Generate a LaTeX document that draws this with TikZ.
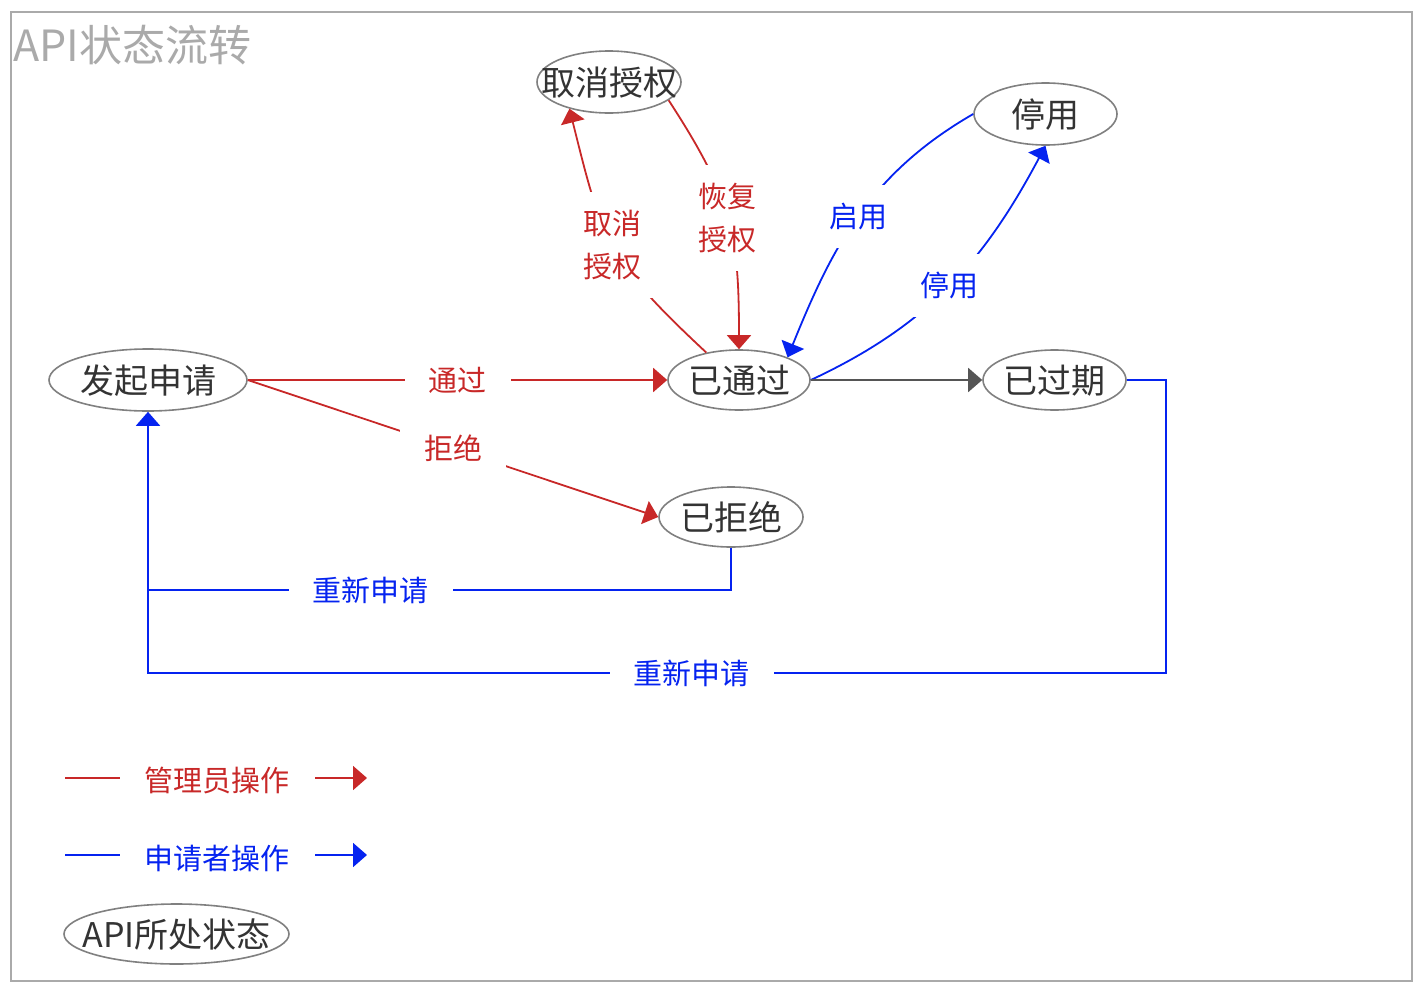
\documentclass[tikz,border=0pt]{standalone}
\usepackage{fontspec}
\setmainfont{Noto Sans CJK SC}
\usetikzlibrary{shapes.geometric,arrows.meta}
\definecolor{ared}{RGB}{200,40,40}
\definecolor{ablue}{RGB}{5,35,240}
\definecolor{stroke}{RGB}{128,128,128}
\definecolor{txt}{RGB}{51,51,51}
\definecolor{framec}{RGB}{170,170,170}
\definecolor{dgray}{RGB}{85,85,85}
\newcommand\zb[1]{\makebox[0pt]{#1}}
\begin{document}
\begin{tikzpicture}[x=1pt,y=1pt,
  st/.style={ellipse, draw=stroke, line width=1.6pt, inner sep=0pt, text=txt,
    font=\fontsize{34}{40}\selectfont, text height=30pt, text depth=4pt},
  lbl/.style={fill=white, inner xsep=24pt, inner ysep=18pt,
    font=\fontsize{29}{43}\selectfont, align=center},
  tip/.style={-{Triangle[length=14pt,width=24pt]}},
  adm/.style={draw=ared, line width=1.8pt, text=ared},
  usr/.style={draw=ablue, line width=1.8pt, text=ablue},
  leg/.style={font=\fontsize{29}{35}\selectfont, inner sep=0pt}
]
\useasboundingbox (0,0) rectangle (1416,-988);
\fill[white] (0,0) rectangle (1416,-988);
\draw[framec, line width=1.6pt] (11,-12) rectangle (1412,-981);
\node[anchor=west, text=framec, font=\fontsize{43}{50}\selectfont, inner sep=0pt] (title) at (13,-45) {API状态流转};

% states
\node[st, minimum width=198, minimum height=62] (A) at (148,-380) {\zb{发起申请}};
\node[st, minimum width=142, minimum height=60] (P) at (739,-380) {\zb{已通过}};
\node[st, minimum width=143, minimum height=60] (E) at (1054.5,-380) {\zb{已过期}};
\node[st, minimum width=144, minimum height=60] (R) at (731,-517) {\zb{已拒绝}};
\node[st, minimum width=144, minimum height=62] (C) at (609,-82) {\zb{取消授权}};
\node[st, minimum width=143, minimum height=62] (S) at (1045.5,-114) {\zb{停用}};
\node[st, minimum width=225, minimum height=60] (L) at (176.5,-934) {\zb{API所处状态}};

\coordinate (j1) at (A.south |- 0,-673);
\coordinate (j2) at (A.south |- 0,-590);

% admin edges
\draw[adm, tip] (A.east) -- node[lbl, pos=0.5] {通过} (P.west);
\draw[adm, tip] (A.east) -- node[lbl, pos=0.5] {拒绝} (R.west);
\draw[adm, tip] (P.140) to[out=137, in=-76, looseness=1.25] node[lbl, pos=0.5] {取消\\授权} (C.214);
\draw[adm, tip] (C.-17) to[out=-57, in=90, looseness=1.15] node[lbl, pos=0.5] {恢复\\授权} (P.north);

% user edges
\draw[usr, tip] (S.west) to[out=210, in=68] node[lbl, pos=0.5] {启用} (P.25);
\draw[usr, tip] (P.east) to[out=25, in=242] node[lbl, pos=0.5] {停用} (S.south);
\draw[dgray, line width=1.8pt, tip] (P.east) -- (E.west);
\draw[usr, tip] (E.east) -- ++(39,0) |- node[lbl, pos=0.733] {重新申请} (j1) -- (A.south);
\draw[usr] (R.south) |- node[lbl, pos=0.809] {重新申请} (j2);

% legend
\draw[ared, line width=1.8pt] (65,-778) -- (120,-778);
\node[leg, text=ared] (l1) at (217,-780) {管理员操作};
\draw[ared, line width=1.8pt, tip] (315,-778) -- (367,-778);
\draw[ablue, line width=1.8pt] (65,-855) -- (120,-855);
\node[leg, text=ablue] (l2) at (217,-858) {申请者操作};
\draw[ablue, line width=1.8pt, tip] (315,-855) -- (367,-855);
\end{tikzpicture}
\end{document}
